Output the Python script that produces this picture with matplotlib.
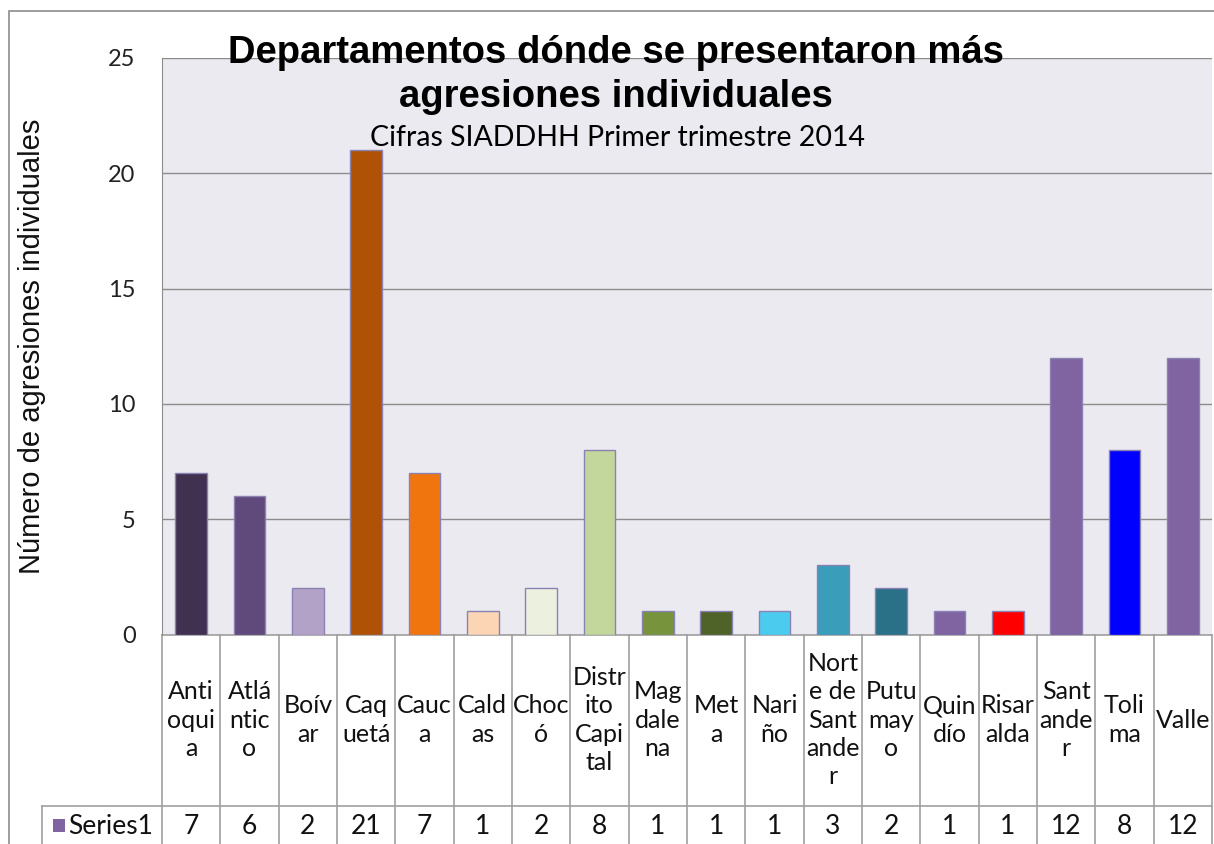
import matplotlib
matplotlib.use("Agg")
import matplotlib.pyplot as plt
import matplotlib.transforms as mtransforms
from matplotlib.patches import Rectangle

# data
departamentos = ["Antioquia", "Atlántico", "Boívar", "Caquetá", "Cauca", "Caldas",
                 "Chocó", "Distrito Capital", "Magdalena", "Meta", "Nariño",
                 "Norte de Santander", "Putumayo", "Quindío", "Risaralda",
                 "Santander", "Tolima", "Valle"]
etiquetas = ["Anti\noqui\na", "Atlá\nntic\no", "Boív\nar", "Caq\nuetá", "Cauc\na",
             "Cald\nas", "Choc\nó", "Distr\nito\nCapi\ntal", "Mag\ndale\nna",
             "Met\na", "Nari\nño", "Nort\ne de\nSant\nande\nr", "Putu\nmay\no",
             "Quin\ndío", "Risar\nalda", "Sant\nande\nr", "Toli\nma", "Valle"]
agresiones = [7, 6, 2, 21, 7, 1, 2, 8, 1, 1, 1, 3, 2, 1, 1, 12, 8, 12]
colores = ["#403151", "#604A7B", "#B3A2C7", "#AF5206", "#F0750F", "#FCD5B5",
           "#EBF1DE", "#C3D69B", "#77933C", "#4F6228", "#4BCCEE", "#3A9DBA",
           "#2A7087", "#8064A2", "#FF0000", "#8064A2", "#0000FF", "#8064A2"]
serie = "Series1"

W, H = 1214, 844
fig = plt.figure(figsize=(W / 100, H / 100), dpi=100)
fig.patch.set_facecolor("white")

# axes box in pixels
x0, x1, ytop, ybot = 162, 1212, 58, 634.5
ax = fig.add_axes([x0 / W, 1 - ybot / H, (x1 - x0) / W, (ybot - ytop) / H])
ax.set_facecolor("#EBEAF0")

xs = list(range(len(departamentos)))
ax.bar(xs, agresiones, width=0.54, color=colores, edgecolor="#8A82B2",
       linewidth=1.0, zorder=3)

ax.set_xlim(-0.5, len(departamentos) - 0.5)
ax.set_ylim(0, 25)
ax.set_yticks([0, 5, 10, 15, 20, 25])
ax.yaxis.grid(True, color="#8C8C8C", linewidth=1.0, zorder=0)
ax.set_axisbelow(True)
ax.set_xticks([])
ax.tick_params(axis="y", length=0, pad=19, labelsize=17, labelcolor="#222222")
for lab in ax.get_yticklabels():
    lab.set_fontfamily("Lato")
for s in ["top", "right", "bottom"]:
    ax.spines[s].set_visible(False)
ax.spines["left"].set_color("#8C8C8C")

ax.set_ylabel("Número de agresiones individuales", fontsize=21,
              fontfamily="Liberation Sans", color="#111111")
ax.yaxis.set_label_coords((46 - x0) / (x1 - x0), 0.5)

# data table under the plot
trans = mtransforms.blended_transform_factory(ax.transData, ax.transAxes)
hpx = ybot - ytop
colw = (x1 - x0) / len(departamentos)

def ya(ypix):
    return (ybot - ypix) / hpx

lc = "#A0A0A0"
y_row = ya(806)
y_end = ya(H + 2)
for i in range(len(departamentos) + 1):
    xb = i - 0.5
    ax.plot([xb, xb], [0, y_end], transform=trans, color=lc, lw=1.2, clip_on=False)
ax.plot([-0.5, len(departamentos) - 0.5], [0, 0], transform=trans, color=lc,
        lw=1.2, clip_on=False)
ax.plot([-0.5 - (x0 - 42) / colw, len(departamentos) - 0.5],
        [y_row, y_row], transform=trans, color=lc, lw=1.2, clip_on=False)
fig.add_artist(plt.Line2D([42 / W, 42 / W], [1 - 806 / H, 0], color=lc, lw=1.2))

for i, (lab, v) in enumerate(zip(etiquetas, agresiones)):
    ax.text(i, ya(720), lab, transform=trans, ha="center", va="center",
            fontsize=18, fontfamily="Lato", linespacing=1.27, color="#111111",
            clip_on=False)
    ax.text(i, ya(826), str(v), transform=trans, ha="center", va="center",
            fontsize=19, fontfamily="Lato", color="#111111", clip_on=False)

# legend key in the table
fig.add_artist(Rectangle((53 / W, 1 - 832 / H), 12 / W, 13 / H,
                         facecolor="#8064A2", edgecolor="none"))
fig.text(68 / W, 1 - 826 / H, serie, ha="left", va="center", fontsize=19,
         fontfamily="Lato", color="#111111")

# outer chart border
fig.add_artist(Rectangle((9 / W, -0.1), 1.2, 1 - 11 / H + 0.1, fill=False,
                         edgecolor="#8C8C8C", linewidth=1.2))

# titles
fig.text(616 / W, 1 - 53 / H, "Departamentos dónde se presentaron más",
         ha="center", va="center", fontsize=27.5, fontweight="bold",
         fontfamily="Liberation Sans")
fig.text(616 / W, 1 - 97 / H, "agresiones individuales",
         ha="center", va="center", fontsize=27.5, fontweight="bold",
         fontfamily="Liberation Sans")
fig.text(617 / W, 1 - 138 / H, "Cifras SIADDHH Primer trimestre 2014",
         ha="center", va="center", fontsize=20.5, fontfamily="Lato")

fig.savefig("out.png", dpi=100)
